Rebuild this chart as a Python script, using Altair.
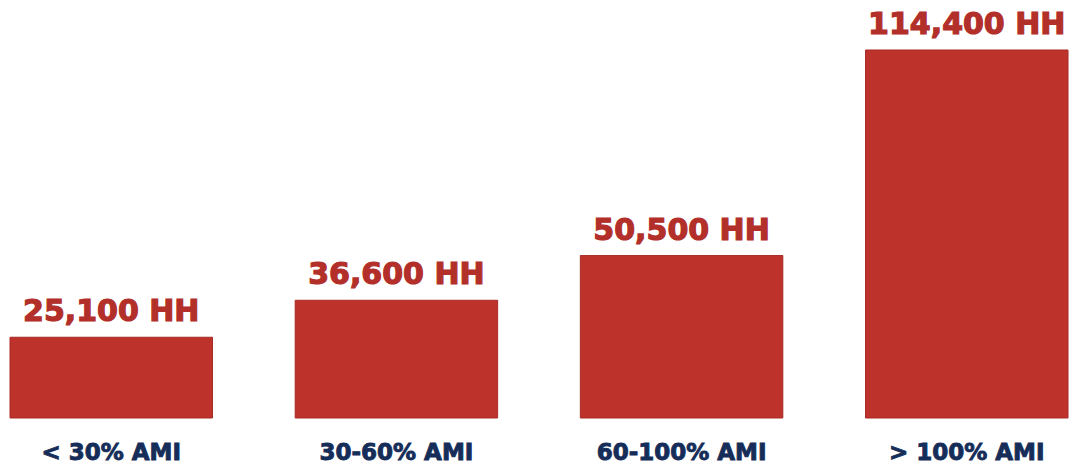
import altair as alt
import pandas as pd

# Households by income band (share of area median income)
categories = ["< 30% AMI", "30-60% AMI", "60-100% AMI", "> 100% AMI"]
households = [25100, 36600, 50500, 114400]
value_labels = ["25,100 HH", "36,600 HH", "50,500 HH", "114,400 HH"]

df = pd.DataFrame({"band": categories, "hh": households, "label": value_labels})

x = alt.X("band:N", sort=categories, axis=None,
          scale=alt.Scale(paddingInner=0.29, paddingOuter=0))
y = alt.Y("hh:Q", axis=None, scale=alt.Scale(domain=[0, 114400], nice=False, zero=True))

bars = alt.Chart(df).mark_bar(color="#BD332C", stroke="#A82A25", strokeWidth=1).encode(x=x, y=y)

# heavy value labels above each bar
values = alt.Chart(df).mark_text(
    font="DejaVu Sans", fontWeight="bold", fontSize=30, color="#B22F2A",
    stroke="#B22F2A", strokeWidth=1.2,
    baseline="alphabetic", dy=-16
).encode(x=x, y=y, text="label:N")

# category names under the bars
bands = alt.Chart(df).mark_text(
    font="DejaVu Sans", fontWeight="bold", fontSize=23, color="#152D58",
    stroke="#152D58", strokeWidth=0.9,
    baseline="alphabetic", dy=42
).encode(x=x, y=alt.value(368), text="band:N")

chart = alt.layer(bars, values, bands).properties(
    width=1058, height=368,
    autosize=alt.AutoSizeParams(type="none"),
    padding={"left": 10, "top": 50, "right": 2, "bottom": 48},
    background="white",
).configure_view(stroke=None)

chart.save("out.html", embed_options={"renderer": "svg", "actions": False})
